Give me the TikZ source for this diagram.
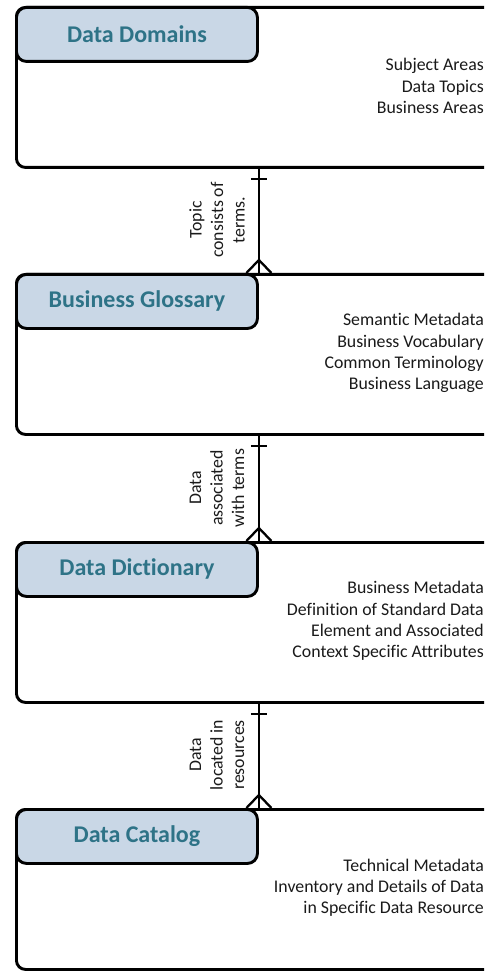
\documentclass[tikz,border=0pt]{standalone}
\usepackage{fontspec}
\setmainfont[Ligatures=NoCommon]{Carlito}
\usetikzlibrary{calc}
\definecolor{hdrfill}{HTML}{C9D7E6}
\definecolor{hdrtext}{HTML}{2E7387}
\definecolor{bodytext}{HTML}{1A1A1A}
\begin{document}
\begin{tikzpicture}[x=1pt,y=-1pt,
  outerbox/.style={draw=black, line width=2.9pt, rounded corners=9pt, fill=white, minimum width=500pt, minimum height=160pt, anchor=north west, inner sep=0pt},
  hdrbox/.style={draw=black, line width=2.9pt, rounded corners=10pt, fill=hdrfill, minimum width=241pt, minimum height=54pt, anchor=north west, inner sep=0pt,
                 font=\fontsize{24}{28}\selectfont\bfseries, text=hdrtext},
  bodylabel/.style={font=\fontsize{17.8}{21.2}\selectfont, text=bodytext, align=right, anchor=east, inner sep=0pt},
  conn/.style={line width=2.3pt, draw=black},
  rellabel/.style={font=\fontsize{17.8}{21.5}\selectfont, text=bodytext, rotate=90, align=center, inner sep=0pt}
]
\useasboundingbox (0,0) rectangle (484,973);
\clip (0,0) rectangle (484,973);

% outer boxes
\node[outerbox] (b1) at (15,6) {};
\node[outerbox] (b2) at (15,273) {};
\node[outerbox] (b3) at (15,541) {};
\node[outerbox] (b4) at (15,808) {};

% headers
\node[hdrbox] (h1) at (15,6) {Data Domains};
\node[hdrbox] (h2) at (15,273) {Business Glossary};
\node[hdrbox] (h3) at (15,541) {Data Dictionary};
\node[hdrbox] (h4) at (15,808) {Data Catalog};

% body texts
\node[bodylabel] (t1) at (484,86) {Subject Areas\\Data Topics\\Business Areas};
\node[bodylabel] (t2) at (484,353) {Semantic Metadata\\Business Vocabulary\\Common Terminology\\Business Language};
\node[bodylabel] (t3) at (484,621) {Business Metadata\\Definition of Standard Data\\Element and Associated\\Context Specific Attributes};
\node[bodylabel] (t4) at (484,888) {Technical Metadata\\Inventory and Details of Data\\in Specific Data Resource};

% connectors
\foreach \u/\l in {b1/b2, b2/b3, b3/b4}{
  \draw[conn] (\u.south -| h1.east) -- (\l.north -| h1.east);
  \draw[conn] ($(\u.south -| h1.east)+(-8,10)$) -- ($(\u.south -| h1.east)+(8,10)$);
  \draw[conn] ($(\l.north -| h1.east)+(-12.5,0)$) -- ($(\l.north -| h1.east)+(0,-13)$) -- ($(\l.north -| h1.east)+(12.5,0)$);
}

% relation labels
\node[rellabel] (r1) at (217,220) {Topic\\consists of\\terms.};
\node[rellabel] (r2) at (217,488) {Data\\associated\\with terms};
\node[rellabel] (r3) at (217,755) {Data\\located in\\resources};
\end{tikzpicture}
\end{document}
